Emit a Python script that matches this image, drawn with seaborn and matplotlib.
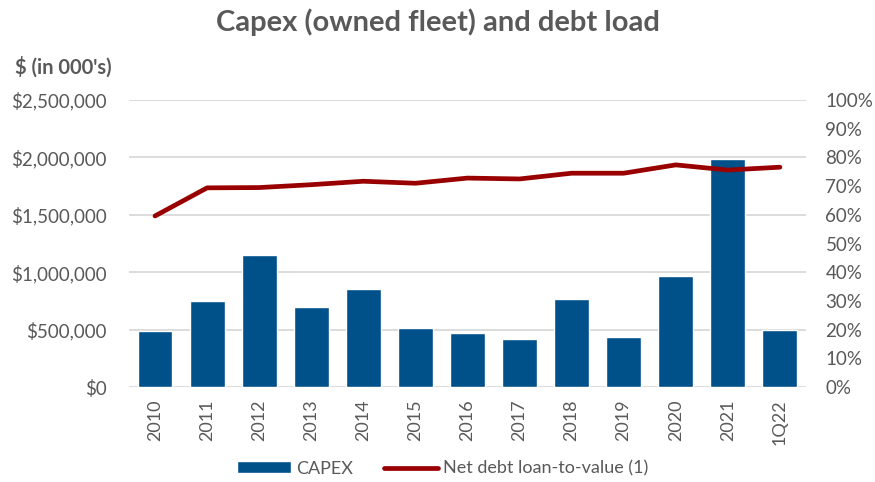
import matplotlib
matplotlib.use("Agg")
import matplotlib.pyplot as plt
import seaborn as sns
import pandas as pd
from matplotlib.ticker import FuncFormatter, MultipleLocator

periods = ["2010", "2011", "2012", "2013", "2014", "2015", "2016",
           "2017", "2018", "2019", "2020", "2021", "1Q22"]
capex = [485000, 746000, 1147000, 697000, 856000, 511000, 473000,
         418000, 764000, 433000, 967000, 1989000, 494000]
net_debt_ltv = [59.6, 69.4, 69.5, 70.5, 71.7, 71.0, 72.8,
                72.5, 74.5, 74.5, 77.4, 75.6, 76.6]

df = pd.DataFrame({"period": periods, "capex": capex, "ltv": net_debt_ltv})

sns.set_theme(style="white")
plt.rcParams["font.family"] = ["Lato", "DejaVu Sans"]

text_color = "#595959"
bar_color = "#00508A"
line_color = "#990000"
grid_color = "#D9D9D9"

fig = plt.figure(figsize=(8.75, 4.82), dpi=100)
ax = fig.add_axes([0.1474, 0.197, 0.7737, 0.5955])

sns.barplot(data=df, x="period", y="capex", color=bar_color, width=0.67,
            saturation=1, ax=ax, zorder=3, label="CAPEX")
ax.set_xlim(-0.5, len(periods) - 0.5)
ax.set_ylim(0, 2500000)
ax.yaxis.set_major_locator(MultipleLocator(500000))
ax.yaxis.set_major_formatter(FuncFormatter(lambda v, p: f"${v:,.0f}"))
ax.grid(axis="y", color=grid_color, linewidth=1.3, zorder=0)
ax.set_axisbelow(True)
ax.set_xlabel("")
ax.set_ylabel("")
for s in ax.spines.values():
    s.set_visible(False)
ax.tick_params(axis="y", length=0, pad=16, labelsize=13.5, labelcolor=text_color)
ax.tick_params(axis="x", length=0, pad=9, labelsize=13, labelcolor=text_color,
               rotation=90)

ax2 = ax.twinx()
sns.lineplot(data=df, x="period", y="ltv", color=line_color, linewidth=3.4,
             ax=ax2, sort=False, label="Net debt loan-to-value (1)",
             solid_capstyle="round", zorder=4)
ax2.set_ylim(0, 100)
ax2.yaxis.set_major_locator(MultipleLocator(10))
ax2.yaxis.set_major_formatter(FuncFormatter(lambda v, p: f"{v:.0f}%"))
ax2.set_ylabel("")
for s in ax2.spines.values():
    s.set_visible(False)
ax2.tick_params(axis="y", length=0, pad=14, labelsize=13.5, labelcolor=text_color)

h1, l1 = ax.get_legend_handles_labels()
h2, l2 = ax2.get_legend_handles_labels()
for a in (ax, ax2):
    if a.get_legend() is not None:
        a.get_legend().remove()

fig.legend(h1 + h2, l1 + l2, loc="center", bbox_to_anchor=(0.506, 0.028),
           ncol=2, frameon=False, fontsize=13, labelcolor=text_color,
           handlelength=3.0, handleheight=0.6, handletextpad=0.3,
           columnspacing=1.7)

fig.text(0.5, 0.953, "Capex (owned fleet) and debt load", ha="center",
         va="center", fontsize=21, fontweight="bold", color=text_color)
fig.text(0.017, 0.862, "$ (in 000's)", ha="left", va="center",
         fontsize=14.5, fontweight="bold", color=text_color)

fig.savefig("out.png", dpi=100)
